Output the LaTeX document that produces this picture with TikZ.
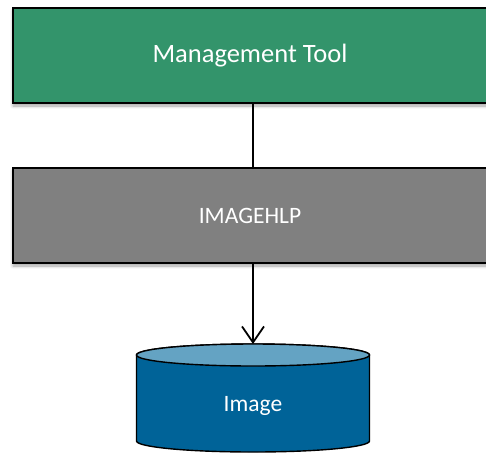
\documentclass[tikz,border=0pt]{standalone}
\usepackage{fontspec}
\setmainfont{Carlito}
\usetikzlibrary{arrows.meta,shadows.blur}
\definecolor{toolgreen}{RGB}{51,148,107}
\definecolor{helpgray}{RGB}{128,128,128}
\definecolor{diskbody}{RGB}{0,99,152}
\definecolor{disktop}{RGB}{100,163,195}
\tikzset{
  layer/.style={draw=black, line width=1.8pt, minimum width=474pt, minimum height=95pt,
    inner sep=0pt, text=white, font=\fontsize{23.5}{28}\selectfont,
    blur shadow={shadow xshift=0pt, shadow yshift=-3pt, shadow blur radius=3pt, shadow opacity=35}},
  link/.style={line width=1.8pt},
}
\begin{document}
\begin{tikzpicture}[x=1pt,y=-1pt]
  \useasboundingbox (0,0) rectangle (486,453);
  % stacked layers
  \node[layer, fill=toolgreen, font=\fontsize{26.5}{31}\selectfont] (tool) at (250,55.5) {Management Tool};
  \node[layer, fill=helpgray] (help) at (250,215.5) {IMAGEHLP};
  % disk cylinder
  \def\cx{253}\def\rx{116.5}\def\ry{11}\def\ytop{355}\def\ybot{441}
  \draw[line width=1.4pt, fill=diskbody]
    (\cx-\rx,\ytop) -- (\cx-\rx,\ybot) arc[start angle=180, end angle=360, x radius=\rx, y radius=-\ry]
    -- (\cx+\rx,\ytop) arc[start angle=0, end angle=180, x radius=\rx, y radius=-\ry] -- cycle;
  \draw[line width=1.4pt, fill=disktop] (\cx,\ytop) ellipse[x radius=\rx, y radius=\ry];
  \coordinate (disktopc) at (\cx,\ytop-\ry);
  \node[text=white, font=\fontsize{23.5}{28}\selectfont] (img) at (\cx,406) {Image};
  % connectors
  \draw[link] (tool.south -| disktopc) -- (help.north -| disktopc);
  \draw[link, -{Straight Barb[length=16pt, width=22pt, line width=1.8pt]}] (help.south -| disktopc) -- (disktopc);
\end{tikzpicture}
\end{document}
